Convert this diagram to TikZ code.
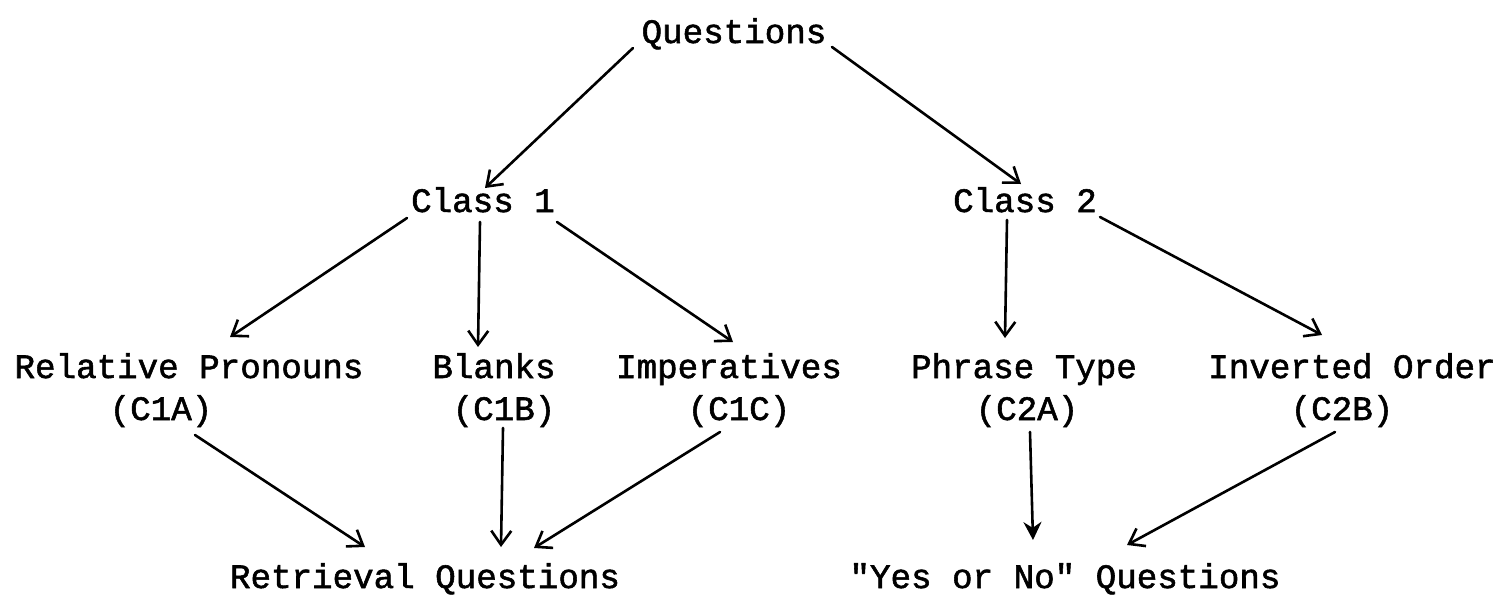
\documentclass[tikz,border=0pt]{standalone}
\usepackage{fontspec}
\newfontfamily\twfont{Liberation Mono}[FakeBold=1.6]
\usetikzlibrary{arrows.meta}
\tikzset{
  lbl/.style={anchor=base, inner sep=0pt, font=\twfont\fontsize{17.1pt}{20pt}\selectfont},
  arr/.style={line width=1.3pt, line cap=round, -{Straight Barb[length=7pt,width=10pt,line width=1.3pt]}},
  arrf/.style={line width=1.3pt, line cap=round, -{Stealth[length=9pt,width=9pt]}}
}
\begin{document}
\begin{tikzpicture}[x=0.5pt,y=-0.5pt]
\useasboundingbox[fill=white] (0,0) rectangle (1500,595);
\node[lbl] (q) at (734,43) {Questions};
\node[lbl] (c1) at (483,212) {Class 1};
\node[lbl] (c2) at (1025,212) {Class 2};
\node[lbl] (rp) at (189,378) {Relative Pronouns};
\node[lbl] (bl) at (494,378) {Blanks};
\node[lbl] (im) at (729,378) {Imperatives};
\node[lbl] (pt) at (1024,378) {Phrase Type};
\node[lbl] (io) at (1352,378) {Inverted Order};
\node[lbl] (c1a) at (161,420) {(C1A)};
\node[lbl] (c1b) at (504,420) {(C1B)};
\node[lbl] (c1c) at (739,420) {(C1C)};
\node[lbl] (c2a) at (1027,420) {(C2A)};
\node[lbl] (c2b) at (1342,420) {(C2B)};
\node[lbl] (rq) at (425,588) {Retrieval Questions};
\node[lbl] (yn) at (1065,588) {"Yes or No" Questions};

\draw[arr] ([shift={(-101,5)}]q.base) -- ([shift={(2,-24)}]c1.base);
\draw[arr] ([shift={(98,4)}]q.base) -- ([shift={(-4,-28)}]c2.base);
\draw[arr] ([shift={(-76,6)}]c1.base) -- ([shift={(41,-41)}]rp.base);
\draw[arr] ([shift={(-3,10)}]c1.base) -- ([shift={(-16,-31)}]bl.base);
\draw[arr] ([shift={(74,10)}]c1.base) -- ([shift={(4,-36)}]im.base);
\draw[arr] ([shift={(-18,8)}]c2.base) -- ([shift={(-19,-40)}]pt.base);
\draw[arr] ([shift={(75,5)}]c2.base) -- ([shift={(-30,-43)}]io.base);
\draw[arr] ([shift={(34,15)}]c1a.base) -- ([shift={(-60,-41)}]rq.base);
\draw[arr] ([shift={(-1,8)}]c1b.base) -- ([shift={(76,-41)}]rq.base);
\draw[arr] ([shift={(-19,12)}]c1c.base) -- ([shift={(109,-40)}]rq.base);
\draw[arrf] ([shift={(3,12)}]c2a.base) -- ([shift={(-32,-48)}]yn.base);
\draw[arr] ([shift={(-7,12)}]c2b.base) -- ([shift={(62,-43)}]yn.base);
\end{tikzpicture}
\end{document}
